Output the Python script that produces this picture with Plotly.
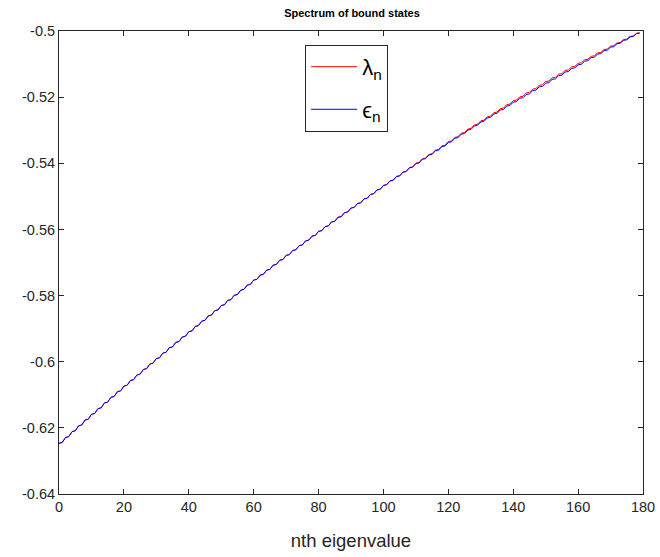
import plotly.graph_objects as go

# eigenvalue index
n_index = list(range(0, 180))

# epsilon_n (blue)
eps_n = [
    -0.62469, -0.62442, -0.62292, -0.62265, -0.62116, -0.62089, -0.61941, -0.61914, -0.61766, -0.61740,
    -0.61592, -0.61566, -0.61420, -0.61394, -0.61248, -0.61221, -0.61077, -0.61051, -0.60907, -0.60881,
    -0.60737, -0.60712, -0.60569, -0.60544, -0.60401, -0.60376, -0.60235, -0.60210, -0.60069, -0.60044,
    -0.59904, -0.59879, -0.59740, -0.59715, -0.59576, -0.59552, -0.59414, -0.59390, -0.59253, -0.59228,
    -0.59092, -0.59068, -0.58932, -0.58908, -0.58773, -0.58749, -0.58615, -0.58591, -0.58458, -0.58434,
    -0.58301, -0.58278, -0.58146, -0.58122, -0.57991, -0.57968, -0.57837, -0.57814, -0.57684, -0.57661,
    -0.57532, -0.57509, -0.57381, -0.57358, -0.57231, -0.57208, -0.57081, -0.57059, -0.56932, -0.56910,
    -0.56785, -0.56762, -0.56638, -0.56616, -0.56491, -0.56470, -0.56346, -0.56324, -0.56202, -0.56180,
    -0.56058, -0.56037, -0.55916, -0.55894, -0.55774, -0.55753, -0.55633, -0.55612, -0.55493, -0.55472,
    -0.55354, -0.55333, -0.55215, -0.55195, -0.55078, -0.55057, -0.54941, -0.54921, -0.54805, -0.54785,
    -0.54670, -0.54650, -0.54536, -0.54516, -0.54403, -0.54383, -0.54271, -0.54251, -0.54139, -0.54120,
    -0.54009, -0.53989, -0.53879, -0.53860, -0.53750, -0.53731, -0.53622, -0.53603, -0.53495, -0.53476,
    -0.53369, -0.53350, -0.53243, -0.53224, -0.53118, -0.53100, -0.52995, -0.52976, -0.52872, -0.52853,
    -0.52750, -0.52732, -0.52629, -0.52611, -0.52508, -0.52490, -0.52389, -0.52371, -0.52270, -0.52253,
    -0.52153, -0.52135, -0.52036, -0.52018, -0.51920, -0.51902, -0.51804, -0.51787, -0.51690, -0.51673,
    -0.51577, -0.51560, -0.51464, -0.51447, -0.51352, -0.51336, -0.51242, -0.51225, -0.51132, -0.51115,
    -0.51022, -0.51006, -0.50914, -0.50898, -0.50807, -0.50791, -0.50700, -0.50684, -0.50594, -0.50579,
    -0.50490, -0.50474, -0.50386, -0.50370, -0.50282, -0.50267, -0.50180, -0.50165, -0.50079, -0.50064,
]

# lambda_n (red)
lambda_n = [
    -0.62469, -0.62442, -0.62292, -0.62265, -0.62116, -0.62089, -0.61941, -0.61914, -0.61766, -0.61740,
    -0.61592, -0.61566, -0.61420, -0.61394, -0.61248, -0.61221, -0.61077, -0.61051, -0.60907, -0.60881,
    -0.60737, -0.60712, -0.60569, -0.60544, -0.60401, -0.60376, -0.60235, -0.60210, -0.60069, -0.60044,
    -0.59904, -0.59879, -0.59740, -0.59715, -0.59576, -0.59552, -0.59414, -0.59390, -0.59253, -0.59228,
    -0.59092, -0.59068, -0.58932, -0.58908, -0.58773, -0.58749, -0.58615, -0.58591, -0.58458, -0.58434,
    -0.58301, -0.58278, -0.58146, -0.58122, -0.57991, -0.57968, -0.57837, -0.57814, -0.57684, -0.57661,
    -0.57532, -0.57509, -0.57381, -0.57358, -0.57231, -0.57208, -0.57081, -0.57059, -0.56932, -0.56910,
    -0.56785, -0.56762, -0.56638, -0.56616, -0.56491, -0.56470, -0.56346, -0.56324, -0.56202, -0.56180,
    -0.56058, -0.56037, -0.55916, -0.55894, -0.55774, -0.55753, -0.55633, -0.55612, -0.55493, -0.55472,
    -0.55354, -0.55333, -0.55215, -0.55195, -0.55078, -0.55057, -0.54941, -0.54921, -0.54805, -0.54785,
    -0.54666, -0.54646, -0.54530, -0.54510, -0.54395, -0.54375, -0.54261, -0.54241, -0.54127, -0.54108,
    -0.53995, -0.53975, -0.53863, -0.53844, -0.53732, -0.53713, -0.53602, -0.53583, -0.53473, -0.53454,
    -0.53345, -0.53326, -0.53217, -0.53198, -0.53090, -0.53072, -0.52965, -0.52946, -0.52840, -0.52821,
    -0.52716, -0.52698, -0.52593, -0.52575, -0.52470, -0.52452, -0.52349, -0.52331, -0.52228, -0.52211,
    -0.52109, -0.52091, -0.51991, -0.51973, -0.51874, -0.51856, -0.51757, -0.51740, -0.51642, -0.51625,
    -0.51529, -0.51512, -0.51416, -0.51399, -0.51304, -0.51288, -0.51195, -0.51178, -0.51086, -0.51069,
    -0.50978, -0.50962, -0.50872, -0.50856, -0.50767, -0.50751, -0.50663, -0.50647, -0.50560, -0.50545,
    -0.50460, -0.50444, -0.50360, -0.50344, -0.50260, -0.50245, -0.50164, -0.50149, -0.50069, -0.50054,
]

x_ticks = [0, 20, 40, 60, 80, 100, 120, 140, 160, 180]
x_tick_labels = ["0", "20", "40", "60", "80", "100", "120", "140", "160", "180"]
y_ticks = [-0.64, -0.62, -0.6, -0.58, -0.56, -0.54, -0.52, -0.5]
y_tick_labels = ["-0.64", "-0.62", "-0.6", "-0.58", "-0.56", "-0.54", "-0.52", "-0.5"]

FONT = "Liberation Sans, Arial, Helvetica, sans-serif"
AX = "#262626"

W, H = 660, 557

fig = go.Figure()
fig.add_trace(go.Scatter(x=n_index, y=lambda_n, mode="lines", name="λ<sub>n</sub>",
                         line=dict(color="#ff0000", width=1), legendgroup="a"))
fig.add_trace(go.Scatter(x=n_index, y=eps_n, mode="lines", name="ϵ<sub>n</sub>",
                         line=dict(color="#0000ff", width=1), legendgroup="b"))

axis_common = dict(showgrid=False, zeroline=False, showline=True, linecolor=AX, linewidth=1,
                   mirror="ticks", ticks="inside", ticklen=5, tickcolor=AX,
                   ticklabeloverflow="allow", automargin=False,
                   tickfont=dict(family=FONT, size=14.5, color=AX))

fig.update_xaxes(range=[0, 180], tickmode="array", tickvals=x_ticks, ticktext=x_tick_labels,
                 title=dict(text="nth eigenvalue", font=dict(family=FONT, size=18.5, color=AX), standoff=19),
                 **axis_common)
fig.update_yaxes(range=[-0.64, -0.5], tickmode="array", tickvals=y_ticks, ticktext=y_tick_labels,
                 **axis_common)

fig.update_layout(
    width=W, height=H,
    margin=dict(l=59, r=17, t=31, b=63, pad=0, autoexpand=False),
    paper_bgcolor="white", plot_bgcolor="white",
    title=dict(text="<b>Spectrum of bound states</b>", x=(352 / W), xanchor="center",
               y=1 - 13 / H, yanchor="middle", yref="container",
               font=dict(family=FONT, size=11, color="#000000")),
    legend=dict(x=0.4215, y=0.970, xanchor="left", yanchor="top",
                bgcolor="white", bordercolor=AX, borderwidth=1,
                font=dict(family=FONT, size=22, color="#000000"),
                itemwidth=46, tracegroupgap=11, traceorder="grouped"),
    showlegend=True,
)

fig.write_html(
    "out.html",
    config={"displayModeBar": False},
    post_script="document.body.style.margin='0';document.documentElement.style.overflow='hidden';document.body.style.overflow='hidden';",
)
